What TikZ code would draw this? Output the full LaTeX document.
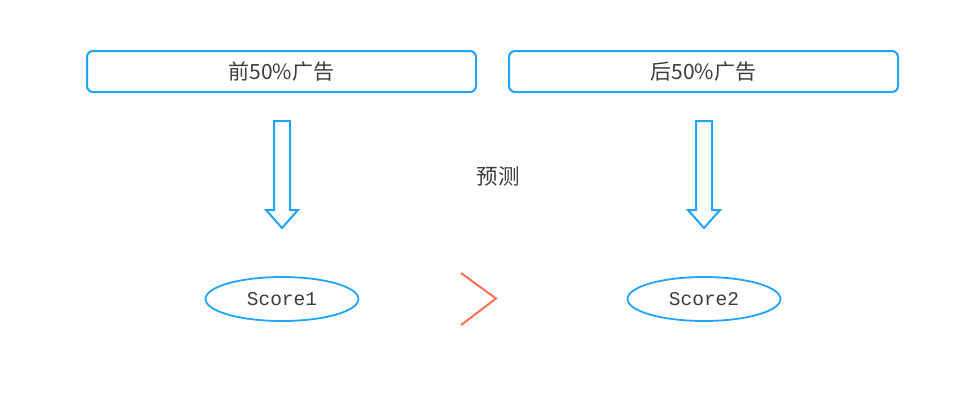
\documentclass[tikz,border=0pt]{standalone}
\usepackage{fontspec}
\usetikzlibrary{shapes.geometric}
\newfontfamily\cjk{Noto Sans CJK SC}
\setmonofont{Liberation Mono}
\definecolor{skyb}{RGB}{30,164,250}
\definecolor{tomatoc}{RGB}{250,110,90}
\definecolor{txt}{RGB}{60,60,60}
\begin{document}
\begin{tikzpicture}[x=1pt,y=-1pt,
  topbox/.style={draw=skyb,line width=2pt,rounded corners=6pt,minimum width=389pt,minimum height=41pt,inner sep=0pt,font=\cjk\fontsize{21}{21}\selectfont,text=txt},
  scorenode/.style={draw=skyb,line width=1.8pt,ellipse,minimum width=153pt,minimum height=44pt,inner sep=0pt,font=\ttfamily\fontsize{19.5}{19.5}\selectfont,text=txt},
  blockarrow/.style={draw=skyb,line width=2pt,line join=miter}]
\useasboundingbox (0,0) rectangle (965,413);
\node[topbox] (b1) at (281.5,71.5) {前50\%广告};
\node[topbox] (b2) at (703.5,71.5) {后50\%广告};
\node[font=\cjk\fontsize{21.5}{21.5}\selectfont,text=txt] (pred) at (498,176) {预测};
\node[scorenode] (s1) at (282,299) {Score1};
\node[scorenode] (s2) at (704,299) {Score2};
\foreach \c in {282,704}{
  \draw[blockarrow] (\c-8,121) -- (\c+8,121) -- (\c+8,210) -- (\c+16,210) -- (\c,228) -- (\c-16,210) -- (\c-8,210) -- cycle;
}
\draw[tomatoc,line width=2pt] (461,273) -- (496,298.5) -- (461,325);
\end{tikzpicture}
\end{document}
